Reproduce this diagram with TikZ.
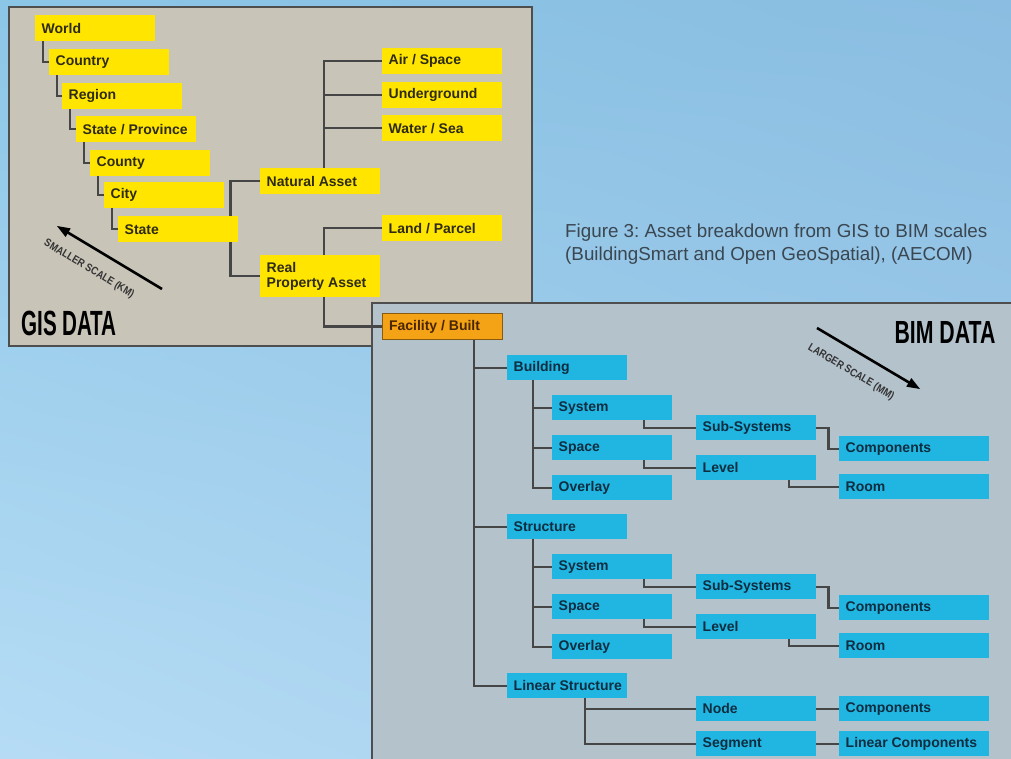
\documentclass[tikz,border=0pt]{standalone}
\usepackage{fontspec}
\setmainfont{Liberation Sans}
\usepackage{graphicx}
\usetikzlibrary{calc,shadings}
\pgfdeclarelayer{back}
\pgfdeclarelayer{edges}
\pgfsetlayers{back,edges,main}
\definecolor{skyA}{HTML}{8CC6E6}
\definecolor{skyB}{HTML}{8ABDE1}
\definecolor{skyC}{HTML}{B6DCF5}
\definecolor{skyD}{HTML}{A6CFEE}
\definecolor{gisgray}{HTML}{C8C4B8}
\definecolor{bimgray}{HTML}{B4C2CC}
\definecolor{frame}{HTML}{4E4E4E}
\definecolor{gisyellow}{HTML}{FFE500}
\definecolor{gistext}{HTML}{2E2B14}
\definecolor{bimcyan}{HTML}{21B6E2}
\definecolor{bimtext}{HTML}{0E2D40}
\definecolor{facorange}{HTML}{F5A316}
\definecolor{facline}{HTML}{8A5A10}
\definecolor{factext}{HTML}{4A2600}
\definecolor{linkgray}{HTML}{464646}
\definecolor{captext}{HTML}{3A4650}

\begin{document}
\begin{tikzpicture}[x=1pt,y=1pt]
\tikzstyle{every node}+=[inner sep=0pt]
\tikzstyle{gisbox}=[fill=gisyellow, text=gistext, anchor=north west, minimum height=26pt, inner xsep=6.5pt, inner ysep=0pt, text width=107pt, align=left, font=\fontsize{14}{14.5}\selectfont\bfseries, execute at begin node={\spaceskip=0pt\xspaceskip=0pt}]
\tikzstyle{facbox}=[gisbox, fill=facorange, draw=facline, line width=1pt, text=factext]
\tikzstyle{bimbox}=[gisbox, fill=bimcyan, text=bimtext, minimum height=25pt]
\tikzstyle{compbox}=[bimbox, text width=137pt]
\tikzstyle{link}=[draw=linkgray, line width=2.2pt]
\tikzstyle{scalearrow}=[black, line width=2.6pt]
\tikzstyle{scaletext}=[text=black!80, font=\fontsize{11}{11}\selectfont\bfseries]
\useasboundingbox (0,0) rectangle (1011,-759);
\begin{pgfonlayer}{back}
\shade [upper left=skyA, upper right=skyB, lower left=skyC, lower right=skyD] (0,0) rectangle (1011,-759);
\draw [frame, fill=gisgray, line width=2pt] (9,-7) rectangle (532,-346);
\fill [bimgray] (372,-303) rectangle (1011,-759);
\draw [frame, line width=2pt] (372,-759) |- (1011,-303);
\end{pgfonlayer}

\node [gisbox] (world) at (35,-15) {World};
\node [gisbox] (country) at (49,-49) {Country};
\node [gisbox] (region) at (62,-83) {Region};
\node [gisbox] (province) at (76,-116) {\mbox{State / Province}};
\node [gisbox] (county) at (90,-150) {County};
\node [gisbox] (city) at (104,-182) {City};
\node [gisbox] (state) at (118,-216) {State};
\node [gisbox] (natural) at (260,-168) {Natural Asset};
\node [gisbox, minimum height=42pt] (real) at (260,-255) {Real\\Property Asset};
\node [gisbox] (air) at (382,-48) {Air / Space};
\node [gisbox] (under) at (382,-82) {Underground};
\node [gisbox] (water) at (382,-115) {Water / Sea};
\node [gisbox] (land) at (382,-215) {Land / Parcel};

\node [facbox] (facility) at (382,-313) {Facility / Built};
\node [bimbox] (building) at (507,-355) {Building};
\node [bimbox] (bsystem) at (552,-395) {System};
\node [bimbox] (bspace) at (552,-435) {Space};
\node [bimbox] (boverlay) at (552,-475) {Overlay};
\node [bimbox] (bsub) at (696,-415) {Sub-Systems};
\node [bimbox] (blevel) at (696,-455) {Level};
\node [compbox] (bcomp) at (839,-436) {Components};
\node [compbox] (broom) at (839,-474) {Room};
\node [bimbox] (structure) at (507,-514) {Structure};
\node [bimbox] (ssystem) at (552,-554) {System};
\node [bimbox] (sspace) at (552,-594) {Space};
\node [bimbox] (soverlay) at (552,-634) {Overlay};
\node [bimbox] (ssub) at (696,-574) {Sub-Systems};
\node [bimbox] (slevel) at (696,-614) {Level};
\node [compbox] (scomp) at (839,-595) {Components};
\node [compbox] (sroom) at (839,-633) {Room};
\node [bimbox] (linear) at (507,-673) {\mbox{Linear Structure}};
\node [bimbox] (lnode) at (696,-696) {Node};
\node [bimbox] (lsegment) at (696,-731) {Segment};
\node [compbox] (lcomp) at (839,-696) {Components};
\node [compbox] (llincomp) at (839,-731) {Linear Components};

\begin{pgfonlayer}{edges}
\foreach \a/\b in {world/country, country/region, region/province, province/county, county/city, city/state}
  \draw [link] ([xshift=8pt]\a.south west) |- (\b.west);
\draw [link] (natural.west) -| ([xshift=-8pt]state.east) |- (real.west);
\foreach \b in {air, under, water}
  \draw [link] ([xshift=64pt]natural.north west) |- (\b.west);
\draw [link] ([xshift=64pt]real.north west) |- (land.west);
\draw [link] ([xshift=64pt]real.south west) |- (facility.west);
\foreach \b in {building, structure, linear}
  \draw [link] ([xshift=92pt]facility.south west) |- (\b.west);
\foreach \p/\s in {b/building, s/structure} {
  \foreach \b in {system, space, overlay}
    \draw [link] ([xshift=26pt]\s.south west) |- (\p\b.west);
  \draw [link] ([xshift=92pt]\p system.south west) |- (\p sub.west);
  \draw [link] ([xshift=92pt]\p space.south west) |- (\p level.west);
  \draw [link] (\p sub.east) -- ++(12pt,0) |- (\p comp.west);
  \draw [link] ([xshift=93pt]\p level.south west) |- (\p room.west);
}
\draw [link] ([xshift=78pt]linear.south west) |- (lnode.west);
\draw [link] ([xshift=78pt]linear.south west) |- (lsegment.west);
\draw [link] (lnode.east) -- (lcomp.west);
\draw [link] (lsegment.east) -- (llincomp.west);
\end{pgfonlayer}

\node [anchor=base, font=\fontsize{35}{35}\selectfont\bfseries] (gistitle) at (69,-335) {\scalebox{0.59}[1]{GIS DATA}};
\node [anchor=base, font=\fontsize{32}{32}\selectfont\bfseries] (bimtitle) at (945,-343) {\scalebox{0.665}[1]{BIM DATA}};

\coordinate (gistail) at (162,-289);
\coordinate (gishead) at (57,-226);
\coordinate (gisbase) at ($(gishead)!13pt!(gistail)$);
\draw [scalearrow] (gistail) -- ($(gishead)!11pt!(gistail)$);
\fill [black] (gishead) -- ($(gisbase)!5pt!90:(gishead)$) -- ($(gisbase)!5pt!-90:(gishead)$) -- cycle;
\node [scaletext, rotate=-31] (gisscale) at (89,-269) {\scalebox{0.85}[1]{SMALLER SCALE (KM)}};

\coordinate (bimtail) at (817,-328);
\coordinate (bimhead) at (920,-389);
\coordinate (bimbase) at ($(bimhead)!13pt!(bimtail)$);
\draw [scalearrow] (bimtail) -- ($(bimhead)!11pt!(bimtail)$);
\fill [black] (bimhead) -- ($(bimbase)!5pt!90:(bimhead)$) -- ($(bimbase)!5pt!-90:(bimhead)$) -- cycle;
\node [scaletext, rotate=-31] (bimscale) at (851,-372) {\scalebox{0.85}[1]{LARGER SCALE (MM)}};

\node [anchor=west, align=left, text=captext, font=\fontsize{18.8}{23}\selectfont\frenchspacing, execute at begin node={\spaceskip=0pt\xspaceskip=0pt}] (caption) at (565,-244) {Figure 3: Asset breakdown from GIS to BIM scales\\(BuildingSmart and Open GeoSpatial), (AECOM)};
\end{tikzpicture}
\end{document}
